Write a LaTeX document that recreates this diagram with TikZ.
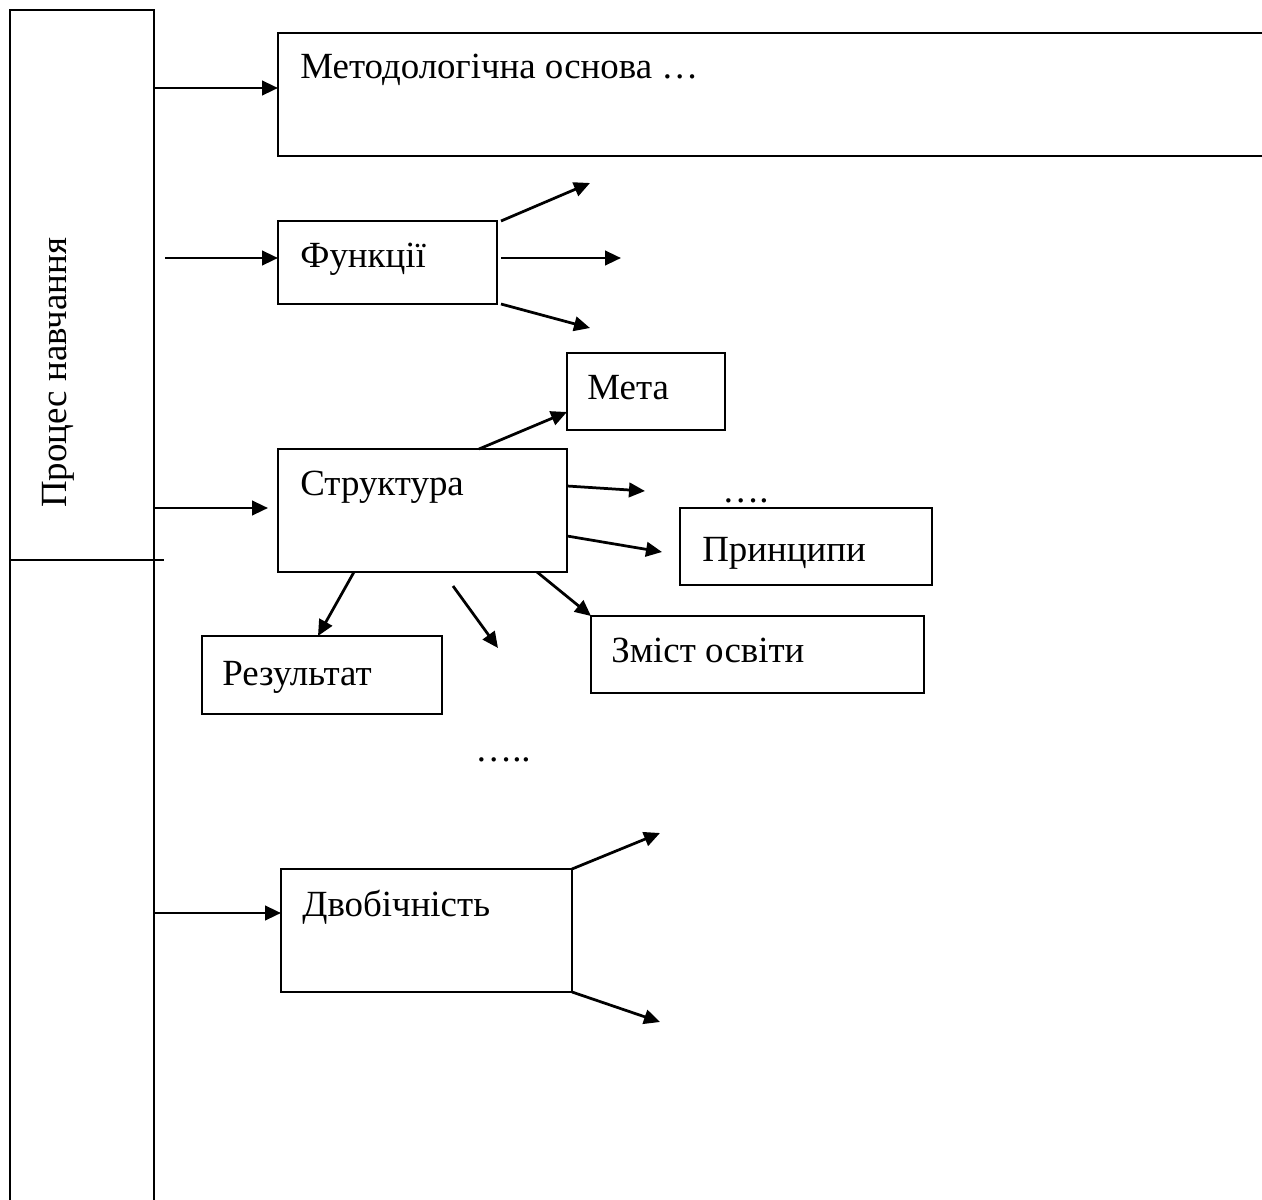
\documentclass[tikz,border=0pt]{standalone}
\usepackage{fontspec}
\setmainfont{Liberation Serif}
\usetikzlibrary{positioning,arrows.meta,calc}

\begin{document}
\begin{tikzpicture}[x=0.02cm, y=-0.02cm, >={Triangle[length=0.32cm,width=0.29cm]},
  box/.style 2 args={draw, line width=0.045cm, inner sep=0pt, outer sep=0pt, anchor=north west,
    minimum width=#1*0.02cm, minimum height=#2*0.02cm},
  lbl/.style={anchor=base west, inner sep=0pt, font=\fontsize{21}{25}\selectfont},
  arr/.style={->, line width=0.055cm}]
  \useasboundingbox (0,0) rectangle (1262,1200);
  \clip (0,0) rectangle (1262,1200);

  % left panel
  \node[box={144}{1230}] (proc) at (10,10) {};
  \node[lbl, rotate=90] (proctxt) at (66,508) {Процес навчання};
  \coordinate (cut) at (164,560);
  \draw[line width=0.045cm] (proc.west |- cut) -- (cut);

  % boxes
  \node[box={1010}{123}] (meth) at (278,33) {};
  \node[box={219}{83}] (fun) at (278,221) {};
  \node[box={158}{77}] (meta) at (567,353) {};
  \node[box={289}{123}] (struct) at (278,449) {};
  \node[box={252}{77}] (princ) at (680,508) {};
  \node[box={240}{78}] (result) at (202,636) {};
  \node[box={333}{77}] (zmist) at (591,616) {};
  \node[box={291}{123}] (dvob) at (281,869) {};

  % texts
  \node[lbl] (methtxt) at ($(meth.north west)+(22,45)$) {Методологічна основа …};
  \node[lbl] (funtxt) at ($(fun.north west)+(22,46)$) {Функції};
  \node[lbl] (metatxt) at ($(meta.north west)+(20,46)$) {Мета};
  \node[lbl] (structtxt) at ($(struct.north west)+(22,46)$) {Структура};
  \node[lbl] (princtxt) at ($(princ.north west)+(22,53)$) {Принципи};
  \node[lbl] (resulttxt) at ($(result.north west)+(20,49)$) {Результат};
  \node[lbl] (zmisttxt) at ($(zmist.north west)+(20,46)$) {Зміст освіти};
  \node[lbl] (dvobtxt) at ($(dvob.north west)+(21,47)$) {Двобічність};
  \node[lbl] (dots1) at (722,502) {….};
  \node[lbl] (dots2) at (475,761) {…..};

  % arrows from the panel
  \coordinate (y1) at (0,88);
  \coordinate (y2) at (165,258);
  \coordinate (y3) at (268,508);
  \coordinate (y4) at (0,913);
  \draw[arr] (proc.east |- y1) -- (meth.west |- y1);
  \draw[arr] (y2) -- (fun.west |- y2);
  \draw[arr] (proc.east |- y3) -- (y3);
  \draw[arr] (proc.east |- y4) -- (dvob.west |- y4);

  % Функції
  \coordinate (f1) at (590,183);
  \coordinate (f2) at (621,258);
  \coordinate (f3) at (590,328);
  \draw[arr] ($(fun.north east)+(4,0)$) -- (f1);
  \draw[arr] ($(fun.east |- f2)+(4,0)$) -- (f2);
  \draw[arr] ($(fun.south east)+(4,0)$) -- (f3);

  % Структура
  \coordinate (s1) at (645,491);
  \coordinate (s2) at (662,552);
  \coordinate (s3) at (498,648);
  \draw[arr] ($(struct.north west)+(201,0)$) -- ($(meta.south west)+(0,-18)$);
  \draw[arr] ($(struct.north east)+(0,37)$) -- (s1);
  \draw[arr] ($(struct.north east)+(0,87)$) -- (s2);
  \draw[arr] ($(struct.south west)+(76,0)$) -- ($(result.north west)+(116,0)$);
  \draw[arr] ($(struct.south west)+(175,14)$) -- (s3);
  \draw[arr] ($(struct.south west)+(259,0)$) -- (zmist.north west);

  % Двобічність
  \coordinate (d1) at (660,833);
  \coordinate (d2) at (660,1022);
  \draw[arr] (dvob.north east) -- (d1);
  \draw[arr] (dvob.south east) -- (d2);
\end{tikzpicture}
\end{document}
